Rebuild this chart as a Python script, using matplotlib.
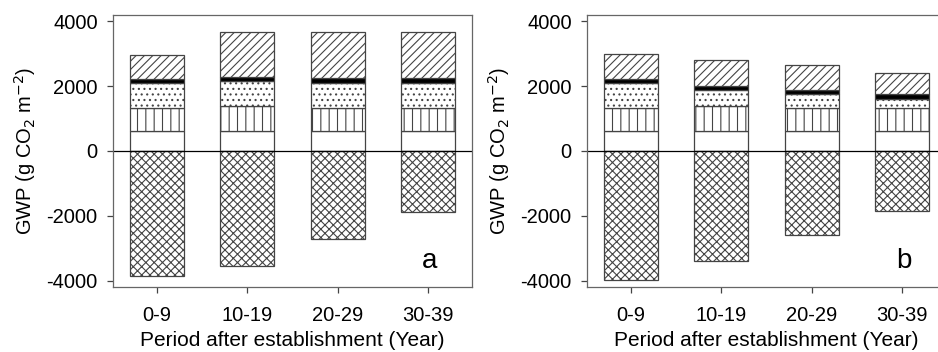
import matplotlib.pyplot as plt
import numpy as np

plt.rcParams['font.family'] = ['Liberation Sans', 'DejaVu Sans']
plt.rcParams['hatch.linewidth'] = 0.8
plt.rcParams['axes.unicode_minus'] = False

periods = ['0-9', '10-19', '20-29', '30-39']

# stacked segments (g CO2 m-2), bottom to top
a_base = [620, 620, 620, 620]
a_vert = [710, 765, 710, 710]
a_dots = [780, 765, 780, 780]
a_black = [120, 125, 130, 130]
a_diag = [740, 1405, 1420, 1420]
a_neg = [-3840, -3540, -2700, -1890]

b_base = [620, 620, 620, 620]
b_vert = [710, 765, 710, 710]
b_dots = [775, 485, 415, 280]
b_black = [105, 120, 125, 135]
b_diag = [785, 820, 790, 670]
b_neg = [-3960, -3390, -2600, -1840]

fig = plt.figure(figsize=(9.38, 3.52), dpi=100)

W, H = 938, 352
def box(left, right, top, bottom):
    return [left / W, (H - bottom) / H, (right - left) / W, (bottom - top) / H]

ax_a = fig.add_axes(box(113, 472, 15, 287))
ax_b = fig.add_axes(box(587, 946, 15, 287))

edge = '#444444'

def draw(ax, segs, neg, letter):
    x = np.arange(len(periods))
    styles = [('white', ''), ('white', '||'), ('white', '...'),
              ('black', ''), ('white', '////')]
    bottom = np.zeros(len(periods))
    for vals, (fc, hatch) in zip(segs, styles):
        ax.bar(x, vals, 0.6, bottom=bottom, color=fc, edgecolor=edge,
               hatch=hatch, linewidth=0.9)
        bottom += np.array(vals)
    ax.bar(x, neg, 0.6, color='white', edgecolor=edge, hatch='xxxx', linewidth=0.9)
    ax.axhline(0, color='black', linewidth=0.9)
    ax.set_xlim(-0.49, 3.49)
    ax.set_ylim(-4190, 4190)
    ax.set_yticks([-4000, -2000, 0, 2000, 4000])
    ax.set_xticks(x)
    ax.set_xticklabels(periods)
    ax.tick_params(axis='both', labelsize=14.5, direction='out', length=4,
                   color=edge, width=0.9)
    ax.tick_params(axis='x', pad=10)
    ax.tick_params(axis='y', pad=7)
    for s in ax.spines.values():
        s.set_color('#666666')
        s.set_linewidth(0.9)
    ax.set_xlabel('Period after establishment (Year)', fontsize=15)
    ax.xaxis.set_label_coords(0.5, -0.16)
    ax.set_ylabel('GWP (g CO$_2$ m$^{-2}$)', fontsize=14.5)
    ax.yaxis.set_label_coords(-0.21, 0.5)
    ax.text(3.02, -3400, letter, fontsize=20, ha='center', va='center')

draw(ax_a, [a_base, a_vert, a_dots, a_black, a_diag], a_neg, 'a')
draw(ax_b, [b_base, b_vert, b_dots, b_black, b_diag], b_neg, 'b')

fig.savefig('out.png', dpi=100)
